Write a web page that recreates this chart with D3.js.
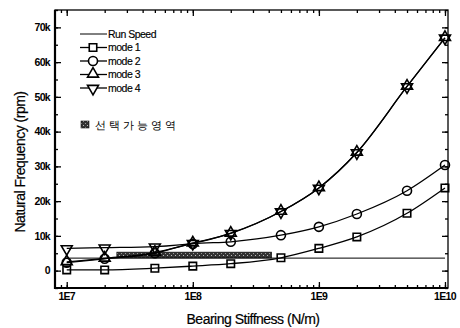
<!DOCTYPE html>
<html>
<head>
<meta charset="utf-8">
<script src="https://cdn.jsdelivr.net/npm/d3@7"></script>
<style>
  body { margin: 0; background: #fff; }
  svg text { font-family: "Liberation Sans", Arial, sans-serif; fill: #000; }
</style>
</head>
<body>
<svg id="chart" width="460" height="328"></svg>
<script>
// stiffness values (N/m)
var stiffness = [1e7, 2e7, 5e7, 1e8, 2e8, 5e8, 1e9, 2e9, 5e9, 1e10]
var mode1 = [200, 200, 700, 1300, 2000, 3700, 6400, 9700, 16500, 23800]
var mode2 = [2300, 3400, 5000, 7700, 8300, 10200, 12600, 16300, 23000, 30400]
var mode3 = [2500, 3500, 5200, 7900, 10700, 17000, 23800, 34000, 53000, 67000]
var mode4 = [6400, 6600, 6900, 7900, 10800, 17000, 23800, 34000, 53000, 67000]
var runSpeed = 3600
var regionX = [2.5e7, 4.2e8]
var regionY = [3700, 5300]
var yTicks = [0, 10000, 20000, 30000, 40000, 50000, 60000, 70000]
var yTickLabels = ["0", "10k", "20k", "30k", "40k", "50k", "60k", "70k"]
var xTicks = [1e7, 1e8, 1e9, 1e10]
var xTickLabels = ["1E7", "1E8", "1E9", "1E10"]

var plotL = 55, plotR = 448, plotT = 10, plotB = 288

var svg = d3.select("#chart")

var x = d3.scaleLog()
          .domain([Math.pow(10, 6.907), Math.pow(10, 10.024)])
          .range([plotL, plotR])

var y = d3.scaleLinear()
          .domain([-5000, 75000])
          .range([plotB, plotT])

// minor ticks
var yMinor = d3.range(-5000, 75001, 5000)
var xMinor = []
for (var e = 6; e <= 10; e++) {
    for (var m = 1; m <= 9; m++) {
        var v = m * Math.pow(10, e)
        if (v >= x.domain()[0] && v <= x.domain()[1]) xMinor.push(v)
    }
}

// axes (inward ticks, mirrored)
var axL = svg.append("g").attr("transform", "translate(" + plotL + ",0)")
    .call(d3.axisRight(y).tickValues(yMinor).tickSize(3).tickFormat(""))
axL.append("g").call(d3.axisRight(y).tickValues(yTicks).tickSize(6).tickFormat(""))

var axR = svg.append("g").attr("transform", "translate(" + plotR + ",0)")
    .call(d3.axisLeft(y).tickValues(yMinor).tickSize(3).tickFormat(""))
axR.append("g").call(d3.axisLeft(y).tickValues(yTicks).tickSize(6).tickFormat(""))

var axB = svg.append("g").attr("transform", "translate(0," + plotB + ")")
    .call(d3.axisTop(x).tickValues(xMinor).tickSize(3).tickFormat(""))
axB.append("g").call(d3.axisTop(x).tickValues(xTicks).tickSize(6).tickFormat(""))

var axT = svg.append("g").attr("transform", "translate(0," + plotT + ")")
    .call(d3.axisBottom(x).tickValues(xMinor).tickSize(3).tickFormat(""))
axT.append("g").call(d3.axisBottom(x).tickValues(xTicks).tickSize(6).tickFormat(""))

svg.selectAll(".domain").remove()
svg.selectAll(".tick line").attr("stroke", "#000").attr("stroke-width", 1.3)

// frame
svg.append("rect")
   .attr("x", plotL).attr("y", plotT)
   .attr("width", plotR - plotL).attr("height", plotB - plotT)
   .attr("fill", "none").attr("stroke", "#000").attr("stroke-width", 1.3)
svg.append("line").attr("x1", plotL).attr("x2", plotL).attr("y1", plotT).attr("y2", plotB + 1)
   .attr("stroke", "#000").attr("stroke-width", 2.2)
svg.append("line").attr("x1", plotL - 1).attr("x2", plotR).attr("y1", plotB).attr("y2", plotB)
   .attr("stroke", "#000").attr("stroke-width", 2.2)

// tick labels
svg.selectAll(".ylab").data(yTicks).enter().append("text")
   .attr("x", plotL - 5).attr("y", function(d) { return y(d) })
   .attr("dy", "0.35em").attr("text-anchor", "end")
   .attr("font-size", 10.5).attr("font-weight", "bold").attr("letter-spacing", "-0.7")
   .text(function(d, i) { return yTickLabels[i] })

svg.selectAll(".xlab").data(xTicks).enter().append("text")
   .attr("x", function(d) { return x(d) }).attr("y", plotB + 12)
   .attr("text-anchor", "middle")
   .attr("font-size", 10.5).attr("font-weight", "bold").attr("letter-spacing", "-0.7")
   .text(function(d, i) { return xTickLabels[i] })

// axis titles
svg.append("text")
   .attr("transform", "translate(25,162) rotate(-90)")
   .attr("text-anchor", "middle").attr("font-size", 14).attr("letter-spacing", "-0.5")
   .attr("stroke", "#000").attr("stroke-width", 0.2)
   .text("Natural Frequency (rpm)")
svg.append("text")
   .attr("x", 253).attr("y", plotB + 36)
   .attr("text-anchor", "middle").attr("font-size", 14).attr("letter-spacing", "-0.5")
   .attr("stroke", "#000").attr("stroke-width", 0.2)
   .text("Bearing Stiffness (N/m)")

// selectable region (shaded bar)
var defs = svg.append("defs")
var pat = defs.append("pattern").attr("id", "hatch")
   .attr("patternUnits", "userSpaceOnUse").attr("width", 4).attr("height", 4)
pat.append("rect").attr("width", 4).attr("height", 4).attr("fill", "#333")
pat.append("rect").attr("x", 1).attr("y", 1).attr("width", 1).attr("height", 1).attr("fill", "#999")
pat.append("rect").attr("x", 3).attr("y", 3).attr("width", 1).attr("height", 1).attr("fill", "#bbb")

svg.append("rect")
   .attr("x", x(regionX[0])).attr("y", y(regionY[1]))
   .attr("width", x(regionX[1]) - x(regionX[0]))
   .attr("height", y(regionY[0]) - y(regionY[1]))
   .attr("fill", "url(#hatch)").attr("stroke", "#111").attr("stroke-width", 0.8)

// run speed line
svg.append("line")
   .attr("x1", x(stiffness[0])).attr("x2", x(stiffness[stiffness.length - 1]))
   .attr("y1", y(runSpeed)).attr("y2", y(runSpeed))
   .attr("stroke", "#000").attr("stroke-width", 1)

var line = d3.line()
    .x(function(d) { return x(d[0]) })
    .y(function(d) { return y(d[1]) })
    .curve(d3.curveMonotoneX)

var symSquare = d3.symbol().type(d3.symbolSquare).size(56)
var symCircle = d3.symbol().type(d3.symbolCircle).size(64)
var symTri = d3.symbol().type(d3.symbolTriangle).size(52)

var series = [
    { name: "mode 1", values: mode1, sym: symSquare, rot: 0, dy: 0 },
    { name: "mode 2", values: mode2, sym: symCircle, rot: 0, dy: 0 },
    { name: "mode 3", values: mode3, sym: symTri, rot: 0, dy: -0.5 },
    { name: "mode 4", values: mode4, sym: symTri, rot: 180, dy: 0.5 }
]

series.forEach(function(s) {
    var pts = stiffness.map(function(k, i) { return [k, s.values[i]] })
    svg.append("path").datum(pts)
       .attr("d", line).attr("fill", "none")
       .attr("stroke", "#000").attr("stroke-width", 1.3)
})

series.forEach(function(s) {
    var pts = stiffness.map(function(k, i) { return [k, s.values[i]] })
    svg.selectAll(null).data(pts).enter().append("path")
       .attr("d", s.sym)
       .attr("transform", function(d) {
           return "translate(" + x(d[0]) + "," + (y(d[1]) + s.dy) + ") rotate(" + s.rot + ")"
       })
       .attr("fill", "#fff").attr("fill-opacity", 0.0001)
       .attr("stroke", "#000").attr("stroke-width", 1.6)
})

// legend
var lg = svg.append("g").attr("transform", "translate(80,34)")
var rowH = 13.5
lg.append("line").attr("x1", 0).attr("x2", 27).attr("y1", 0).attr("y2", 0)
  .attr("stroke", "#000").attr("stroke-width", 1)
lg.append("text").attr("x", 28).attr("y", 0).attr("dy", "0.35em")
  .attr("font-size", 10.5).attr("letter-spacing", "-0.5")
  .attr("stroke", "#000").attr("stroke-width", 0.15).text("Run Speed")

series.forEach(function(s, i) {
    var yy = (i + 1) * rowH
    lg.append("line").attr("x1", 0).attr("x2", 27).attr("y1", yy).attr("y2", yy)
      .attr("stroke", "#000").attr("stroke-width", 1.3)
    lg.append("path").attr("d", s.sym)
      .attr("transform", "translate(13," + (yy + s.dy) + ") rotate(" + s.rot + ")")
      .attr("fill", "#fff").attr("stroke", "#000").attr("stroke-width", 1.6)
    lg.append("text").attr("x", 28).attr("y", yy).attr("dy", "0.35em")
      .attr("font-size", 10.5).attr("letter-spacing", "-0.5")
      .attr("stroke", "#000").attr("stroke-width", 0.15).text(s.name)
})

lg.append("rect").attr("x", 1).attr("y", 87).attr("width", 8).attr("height", 7)
  .attr("fill", "url(#hatch)").attr("stroke", "#111").attr("stroke-width", 0.6)
lg.append("text").attr("x", 15).attr("y", 91).attr("dy", "0.35em")
  .attr("font-family", "Noto Sans CJK KR").attr("font-size", 11).attr("letter-spacing", "3")
  .text("선택가능영역")
</script>
</body>
</html>
